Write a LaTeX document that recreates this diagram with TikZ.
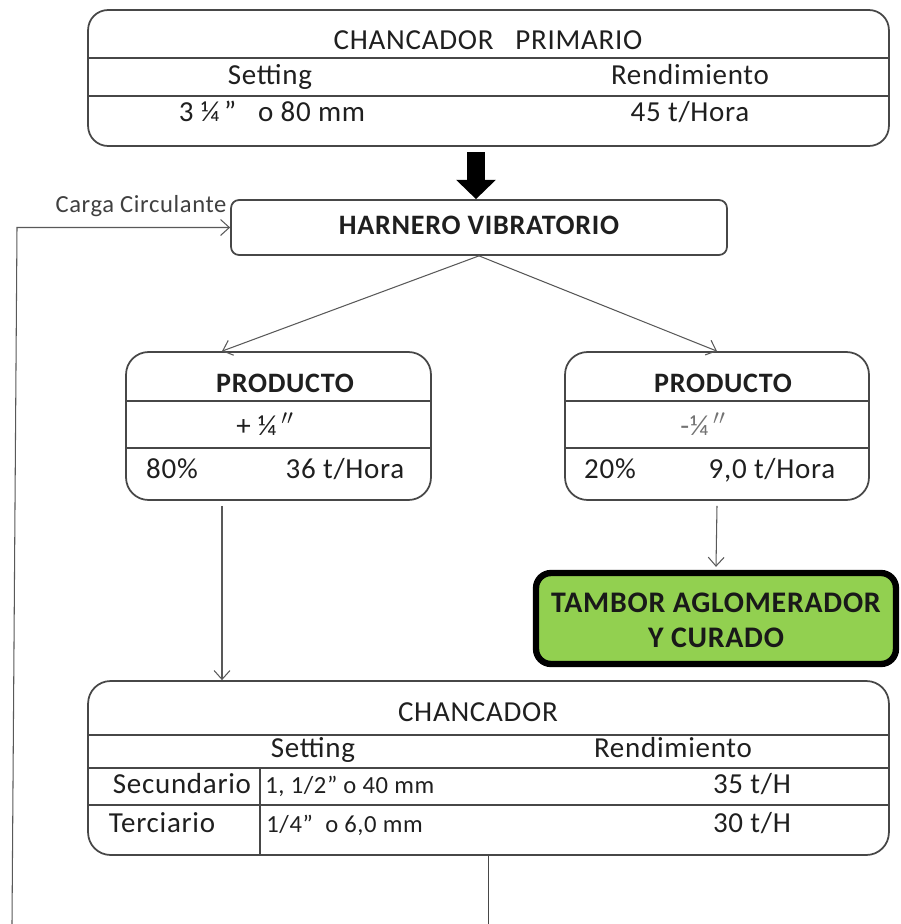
\documentclass[tikz,border=0pt]{standalone}
\usepackage{fontspec}
\setmainfont{Carlito}[LetterSpace=2.5]
\usetikzlibrary{arrows.meta}

\tikzset{
  caja/.style={draw=black!72, line width=1pt, rounded corners=#1, inner sep=0pt},
  caja/.default=0.4cm,
  raya/.style={draw=black!72, line width=1pt},
  flecha/.style={draw=black!65, line width=0.6pt, -{Straight Barb[length=5pt,width=9pt]}},
  bloque/.style={draw=black, line width=10pt, -{Triangle[width=22pt,length=11pt]}},
  txt/.style={text=black!88, inner sep=0pt, text height=0.9em, text depth=0.1em},
  chico/.style={txt, anchor=west, font=\fontsize{14}{16}\selectfont},
  negrita/.style={txt, font=\fontsize{16}{19}\selectfont\bfseries},
}

\begin{document}
\begin{tikzpicture}[x=0.02cm, y=-0.02cm, font=\fontsize{16.5}{19}\selectfont]

\useasboundingbox (0,0) rectangle (901,924);

% cajas principales
\node[caja=0.4cm, minimum width=16.02cm, minimum height=2.72cm] (prim) at (488.5,78) {};
\node[caja=0.16cm, minimum width=9.92cm, minimum height=1.1cm] (harnero) at (479,227.5) {};
\node[caja=0.45cm, minimum width=6.1cm, minimum height=2.96cm] (pizq) at (278.5,426) {};
\node[caja=0.45cm, minimum width=6.08cm, minimum height=2.96cm] (pder) at (717,426) {};
\node[caja=0.3cm, draw=black, line width=3.6pt, fill={rgb,255:red,146;green,208;blue,80},
      minimum width=7.2cm, minimum height=1.82cm] (tambor) at (716,618.5) {};
\node[caja=0.45cm, minimum width=16.02cm, minimum height=3.48cm] (chanc) at (488.5,768) {};

% divisiones de las tablas
\draw[raya] (prim.west |- 0,58) -- (prim.east |- 0,58);
\draw[raya] (prim.west |- 0,96) -- (prim.east |- 0,96);
\draw[raya] (pizq.west |- 0,401) -- (pizq.east |- 0,401);
\draw[raya] (pizq.west |- 0,448) -- (pizq.east |- 0,448);
\draw[raya] (pder.west |- 0,401) -- (pder.east |- 0,401);
\draw[raya] (pder.west |- 0,448) -- (pder.east |- 0,448);
\draw[raya] (chanc.west |- 0,735) -- (chanc.east |- 0,735);
\draw[raya] (chanc.west |- 0,768) -- (chanc.east |- 0,768);
\draw[raya] (chanc.west |- 0,805) -- (chanc.east |- 0,805);
\draw[raya] (260,768) -- (chanc.south -| 260,0);

% textos chancador primario
\node[txt] (primtit) at (488,42) {CHANCADOR\ \ \ PRIMARIO};
\node[txt] (primset) at (270,77) {Setting};
\node[txt] (primren) at (690,77) {Rendimiento};
\node[txt] (primval) at (272,114) {3 ¼\,"\ \ \ o 80 mm};
\node[txt] (primton) at (690,114) {45 t/Hora};

% harnero
\node[negrita, font=\fontsize{16}{19}\selectfont\bfseries] (harntxt) at (harnero) {HARNERO VIBRATORIO};
\node[txt, font=\fontsize{14}{16}\selectfont, text=black!75] (carga) at (141,205) {Carga Circulante};

% productos
\node[negrita] (pizqtit) at (285,385) {PRODUCTO};
\node[txt] (pizqmal) at (265,428) {+ ¼\,$''$};
\node[txt] (pizqpor) at (172,471) {80\%};
\node[txt] (pizqton) at (345,471) {36 t/Hora};
\node[negrita] (pdertit) at (723,385) {PRODUCTO};
\node[txt, text=black!55] (pdermal) at (703,428) {-¼\,$''$};
\node[txt] (pderpor) at (610,471) {20\%};
\node[txt] (pderton) at (772,471) {9,0 t/Hora};

% tambor
\node[text=black!90, inner sep=0pt, font=\fontsize{17}{20}\selectfont\bfseries, align=center] (tambtxt) at ([yshift=-0.04cm]tambor) {TAMBOR AGLOMERADOR\\Y CURADO};

% chancador secundario / terciario
\node[txt] (chanctit) at (478,714) {CHANCADOR};
\node[txt] (chancset) at (313,750) {Setting};
\node[txt] (chancren) at (673,750) {Rendimiento};
\node[txt] (secun) at (182,786) {Secundario};
\node[chico] (secset) at (265,786) {1, 1/2" o 40 mm};
\node[txt] (secton) at (752,786) {35 t/H};
\node[txt] (terci) at (162,825) {Terciario};
\node[chico] (terset) at (266,825) {1/4"\ \ o 6,0 mm};
\node[txt] (terton) at (752,825) {30 t/H};

% flujo
\coordinate (caida) at (476,152);
\draw[bloque] (caida) -- (caida |- harnero.north);
\draw[flecha] (harnero.south) -- ([xshift=-1.13cm]pizq.north);
\draw[flecha] (harnero.south) -- (pder.north);
\coordinate (bajada) at ([xshift=-1.13cm,yshift=-0.1cm]pizq.south);
\draw[flecha] (bajada) -- (bajada |- chanc.north);
\draw[flecha] ([yshift=-0.1cm]pder.south) -- ([yshift=0.06cm]tambor.north);
\coordinate (salida) at (488.5,924);
\draw[raya] (chanc.south) -- (salida);
\coordinate (retorno) at (12,924);
\coordinate (esquina) at (17,227.5);
\draw[flecha] (retorno) -- (esquina) -- (harnero.west);

\end{tikzpicture}
\end{document}
